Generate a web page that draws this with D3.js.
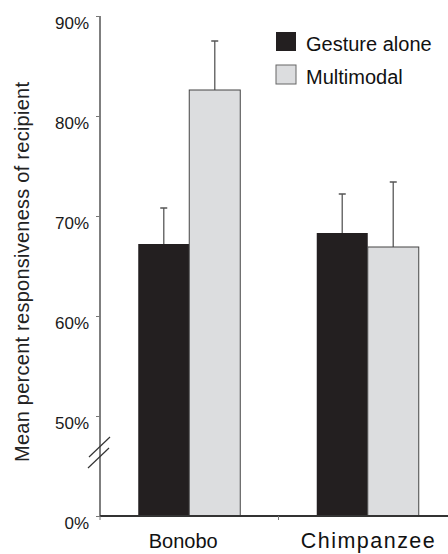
<!DOCTYPE html>
<html>
<head>
<meta charset="utf-8">
<script src="https://cdn.jsdelivr.net/npm/d3@7"></script>
<style>
  html, body { margin: 0; padding: 0; background: #fff; }
  svg { display: block; font-family: Arial, "Liberation Sans", Helvetica, sans-serif; }
</style>
</head>
<body>
<svg id="chart" width="448" height="554"></svg>
<script>
const categories = ["Bonobo", "Chimpanzee"];
const seriesNames = ["Gesture alone", "Multimodal"];
const gestureAlone = [67.2, 68.3];
const multimodal = [82.6, 66.9];
const gestureErr = [70.8, 72.2];   // top of error bar
const multimodalErr = [87.5, 73.4];
const yTicks = [0, 50, 60, 70, 80, 90];

const colors = { "Gesture alone": "#231f20", "Multimodal": "#dcdddf" };
const svg = d3.select("#chart");

const y = d3.scaleLinear().domain([0, 50, 90]).range([516, 416, 16]);
const x0 = d3.scaleBand().domain(categories).range([100, 457]);
const barGroupW = 102;
const x1 = d3.scaleBand().domain(seriesNames)
  .range([(x0.bandwidth() - barGroupW) / 2, (x0.bandwidth() + barGroupW) / 2]);

const data = [];
categories.forEach((c, i) => {
  data.push({ cat: c, s: "Gesture alone", v: gestureAlone[i], e: gestureErr[i] });
  data.push({ cat: c, s: "Multimodal", v: multimodal[i], e: multimodalErr[i] });
});

// error bars
const eb = svg.append("g");
data.forEach(d => {
  const cx = x0(d.cat) + x1(d.s) + x1.bandwidth() / 2;
  eb.append("line").attr("x1", cx).attr("x2", cx).attr("y1", y(d.v)).attr("y2", y(d.e))
    .attr("stroke", "#6e6e6e").attr("stroke-width", 1.5);
  eb.append("line").attr("x1", cx - 3.5).attr("x2", cx + 3.5).attr("y1", y(d.e)).attr("y2", y(d.e))
    .attr("stroke", "#555").attr("stroke-width", 1.5);
});

// bars
svg.append("g").selectAll("rect").data(data).join("rect")
  .attr("x", d => x0(d.cat) + x1(d.s))
  .attr("y", d => y(d.v))
  .attr("width", x1.bandwidth())
  .attr("height", d => y(0) - y(d.v))
  .attr("fill", d => colors[d.s])
  .attr("stroke", d => d.s === "Multimodal" ? "#444" : "none")
  .attr("stroke-width", 1);

// y axis
const yAxis = d3.axisLeft(y).tickValues(yTicks).tickFormat(d => d + "%").tickSize(4).tickPadding(7);
const yg = svg.append("g").attr("transform", "translate(100,0)").call(yAxis);
yg.select(".domain").attr("stroke", "#555").attr("stroke-width", 1.5).attr("d", "M0," + y(90) + "V" + y(0));
yg.selectAll(".tick line").attr("stroke", "#777").attr("stroke-width", 1);
yg.selectAll(".tick text").attr("font-size", 17).attr("fill", "#1a1a1a").attr("dy", "0.72em")
  .attr("y", 0).attr("font-family", "Arial, 'Liberation Sans', sans-serif");

// axis break slashes
const brk = svg.append("g").attr("stroke", "#333").attr("stroke-width", 1.2);
brk.append("line").attr("x1", 89).attr("y1", 457).attr("x2", 110).attr("y2", 437);
brk.append("line").attr("x1", 88).attr("y1", 468).attr("x2", 109).attr("y2", 448);

// x axis
const xg = svg.append("g");
xg.append("line").attr("x1", 100).attr("x2", 448).attr("y1", y(0)).attr("y2", y(0))
  .attr("stroke", "#333").attr("stroke-width", 2);
const bounds = [x0.range()[0], x0(categories[1]), x0.range()[1]];
bounds.forEach(b => {
  xg.append("line").attr("x1", b).attr("x2", b).attr("y1", y(0)).attr("y2", y(0) + 4)
    .attr("stroke", "#777").attr("stroke-width", 1);
});
const xLabelSize = { "Bonobo": 20, "Chimpanzee": 21.5 };
categories.forEach(c => {
  const t = xg.append("text")
    .attr("x", x0(c) + x0.bandwidth() / 2 - (c === "Bonobo" ? 6 : 0))
    .attr("y", 548)
    .attr("text-anchor", "middle")
    .attr("font-size", xLabelSize[c])
    .attr("fill", "#111")
    .text(c);
  if (c === "Chimpanzee") t.attr("textLength", 134).attr("lengthAdjust", "spacing");
});

// y title
svg.append("text")
  .attr("transform", "translate(29,272) rotate(-90)")
  .attr("text-anchor", "middle")
  .attr("font-size", 20)
  .attr("textLength", 380)
  .attr("lengthAdjust", "spacing")
  .attr("fill", "#222")
  .text("Mean percent responsiveness of recipient");

// legend
const lg = svg.append("g");
seriesNames.forEach((s, i) => {
  lg.append("rect").attr("x", 276).attr("y", 32 + i * 33).attr("width", 20).attr("height", 19)
    .attr("fill", colors[s])
    .attr("stroke", s === "Multimodal" ? "#666" : "none").attr("stroke-width", 1);
  lg.append("text").attr("x", 306).attr("y", 51 + i * 32.5)
    .attr("font-size", 20).attr("fill", "#111").text(s);
});
</script>
</body>
</html>
